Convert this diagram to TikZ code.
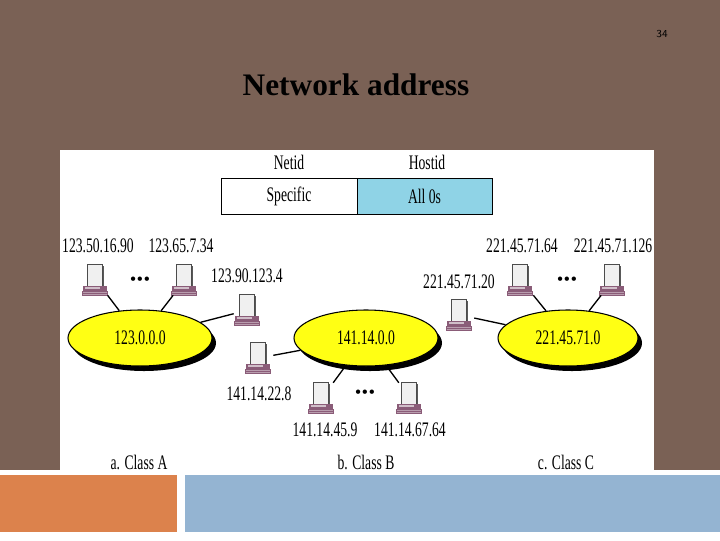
\documentclass[tikz,border=0pt]{standalone}
\usepackage{fontspec}
\setmainfont{Liberation Serif}
\newfontfamily\narrow[FakeStretch=0.66]{Liberation Serif}
\usetikzlibrary{shapes.geometric}
\definecolor{bgbrown}{HTML}{7A6155}
\definecolor{orng}{HTML}{DC824C}
\definecolor{blu}{HTML}{94B4D2}
\definecolor{cyanb}{HTML}{8FD3E6}
\definecolor{ellyel}{HTML}{FFFF14}
\definecolor{kbd}{HTML}{8A5C78}
\begin{document}
\begin{tikzpicture}[x=0.75pt,y=-0.75pt,
  lbl/.style={font=\narrow\fontsize{15.5}{17}\selectfont,inner sep=0},
  comp/.style={inner sep=0,minimum width=28*0.75pt,minimum height=30*0.75pt},
  link/.style={line width=1pt}]
\useasboundingbox (0,0) rectangle (720,540);
\fill[white] (0,0) rectangle (720,540);
\fill[bgbrown] (0,0) rectangle (720,470);
\fill[white] (60,150) rectangle (654,470);
\fill[orng] (0,475) rectangle (177,532);
\fill[blu] (185,475) rectangle (720,532);
\node[font=\sffamily\fontsize{8}{9}\selectfont,text=black] (pg) at (662,34) {34};
\node[font=\bfseries\fontsize{23.5}{28}\selectfont] (title) at (356,85) {Network address};
% table
\node[lbl] (netid) at (289,162) {Netid};
\node[lbl] (hostid) at (427,162) {Hostid};
\node[draw,fill=white,minimum width=136*0.75pt,minimum height=36*0.75pt,inner sep=0,font=\narrow\fontsize{15.5}{17}\selectfont] (spec) at (289,196) {Specific};
\node[draw,fill=cyanb,minimum width=135*0.75pt,minimum height=36*0.75pt,inner sep=0,font=\narrow\fontsize{15.5}{17}\selectfont] (all0) at (424.5,196) {All 0s};
% networks
\foreach \n/\x/\w/\t in {A/140/144/123.0.0.0, B/366/144/141.14.0.0, C/568/140/221.45.71.0}{
  \fill[black] (\x+4,343) ellipse ({\w/2} and 28);
  \node[ellipse,draw,fill=ellyel,line width=0.8pt,minimum width=\w*0.75pt,minimum height=56*0.75pt,inner sep=0,font=\narrow\fontsize{15.5}{17}\selectfont] (\n) at (\x,338) {\t};
}
% computers
\foreach \c/\x/\y in {a1/96/280, a2/185/280, a3/248/310, b1/259/358, b2/322/398, b3/410/398, c0/460/315, c1/521/280, c2/613/280}{
  \node[comp] (\c) at (\x,\y) {};
  \begin{scope}[shift={(\x,\y)},scale=1.2]
    \fill[gray!70!black] (-6,-12) rectangle (7,6);
    \fill[gray!12] (-7,-13) rectangle (5,5);
    \draw[gray!60!black,line width=0.4pt] (-7,-13) rectangle (5,5);
    \fill[kbd] (-11,5) rectangle (9,9);
    \fill[kbd!40] (-9,6) rectangle (3,7.5);
    \fill[kbd] (-12,9) rectangle (10,13);
    \draw[kbd!60,line width=0.3pt] (-11,10.3) -- (9,10.3) (-11,11.7) -- (9,11.7);
  \end{scope}
}
\foreach \c/\n in {a1/A,a2/A,a3/A,b1/B,b2/B,b3/B,c0/C,c1/C,c2/C}{
  \draw[link] (\c) -- (\n);
}
% labels
\node[lbl] (la1) at (98,246) {123.50.16.90};
\node[lbl] (la2) at (181,246) {123.65.7.34};
\node[lbl] (la3) at (247,276) {123.90.123.4};
\node[lbl] (lb1) at (259,394) {141.14.22.8};
\node[lbl] (lb2) at (325,430) {141.14.45.9};
\node[lbl] (lb3) at (410,430) {141.14.67.64};
\node[lbl] (lc0) at (459,282) {221.45.71.20};
\node[lbl] (lc1) at (522,246) {221.45.71.64};
\node[lbl] (lc2) at (613,246) {221.45.71.126};
\foreach \d/\x/\y in {dA/140/281, dB/365/394, dC/567/281}{
  \node[inner sep=0] (\d) at (\x,\y) {\fontsize{12}{12}\selectfont\textbf{\textbullet\kern1pt\textbullet\kern1pt\textbullet}};
}
\node[lbl] (ca) at (139,462) {a. Class A};
\node[lbl] (cb) at (366,462) {b. Class B};
\node[lbl] (cc) at (566,462) {c. Class C};
\end{tikzpicture}
\end{document}
